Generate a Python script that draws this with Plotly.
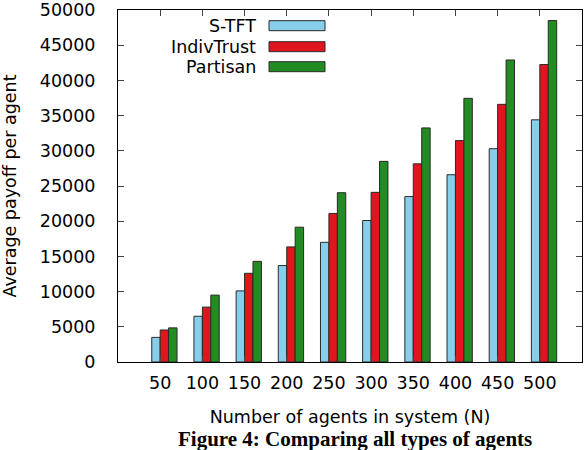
import plotly.graph_objects as go

agents = [50, 100, 150, 200, 250, 300, 350, 400, 450, 500]
stft = [3500, 6500, 10100, 13700, 17000, 20100, 23500, 26600, 30300, 34400]
indiv = [4550, 7800, 12600, 16350, 21100, 24100, 28150, 31450, 36600, 42250]
partisan = [4850, 9500, 14300, 19150, 24050, 28500, 33250, 37450, 42900, 48500]
y_ticks = [0, 5000, 10000, 15000, 20000, 25000, 30000, 35000, 40000, 45000, 50000]

names = ["S-TFT", "IndivTrust", "Partisan"]
colors = ["#87CEEB", "#E0161F", "#228B22"]
series = [stft, indiv, partisan]
offsets = [-10, 0, 10]

fig = go.Figure()
for name, col, vals, off in zip(names, colors, series, offsets):
    fig.add_trace(go.Bar(
        x=agents, y=vals, name=name, width=10, offset=off,
        marker=dict(color=col, line=dict(color="#2a2a2a", width=1)),
        showlegend=False,
    ))

font = "DejaVu Sans, Liberation Sans, sans-serif"
fs = 17.5
W, H = 584, 450
ml, mr, mt, mb = 118, 2, 10, 88
pw = W - ml - mr
ph = H - mt - mb

def px2paper_x(px):
    return (px - ml) / pw

def px2paper_y(py):
    return (H - mb - py) / ph

shapes = []
annotations = []
rows_y = [25.7, 46.7, 66.7]
for name, col, ry in zip(names, colors, rows_y):
    annotations.append(dict(
        x=px2paper_x(258), y=px2paper_y(ry), xref="paper", yref="paper",
        text=name, showarrow=False, xanchor="right", yanchor="middle",
        font=dict(family=font, size=fs, color="black"),
    ))
    shapes.append(dict(
        type="rect", xref="paper", yref="paper",
        x0=px2paper_x(269), x1=px2paper_x(325),
        y0=px2paper_y(ry + 5), y1=px2paper_y(ry - 5),
        fillcolor=col, line=dict(color="#2a2a2a", width=1),
    ))

annotations.append(dict(
    x=px2paper_x(355), y=px2paper_y(448), xref="paper", yref="paper",
    text="<b>Figure 4: Comparing all types of agents</b>", showarrow=False,
    xanchor="center", yanchor="bottom", yshift=-5,
    font=dict(family="Liberation Serif, Times New Roman, serif", size=21, color="black"),
))

fig.update_layout(
    width=W, height=H,
    margin=dict(l=ml, r=mr, t=mt, b=mb, autoexpand=False),
    paper_bgcolor="white", plot_bgcolor="white",
    barmode="overlay",
    font=dict(family=font, size=fs, color="black"),
    shapes=shapes,
    annotations=annotations,
    xaxis=dict(
        range=[0, 550], tickvals=agents, ticktext=[str(a) for a in agents],
        ticks="inside", ticklen=6, tickcolor="#444", mirror="allticks",
        showline=True, linecolor="black", linewidth=1, showgrid=False, zeroline=False,
        tickfont=dict(family=font, size=fs, color="black"),
        title=dict(text="Number of agents in system (N)", font=dict(family=font, size=fs, color="black"), standoff=18),
        ticklabelstandoff=5, automargin=False, ticklabeloverflow="allow",
    ),
    yaxis=dict(
        range=[0, 50000], tickvals=y_ticks, ticktext=[str(v) for v in y_ticks],
        ticks="inside", ticklen=6, tickcolor="#444", mirror="allticks",
        showline=True, linecolor="black", linewidth=1, showgrid=False, zeroline=False,
        tickfont=dict(family=font, size=fs, color="black"),
        title=dict(text="Average payoff per agent", font=dict(family=font, size=fs, color="black"), standoff=18),
        ticklabelstandoff=18, automargin=False, ticklabeloverflow="allow",
    ),
)

fig.write_html("out.html", config={"displayModeBar": False},
               post_script="document.body.style.margin='0';")
